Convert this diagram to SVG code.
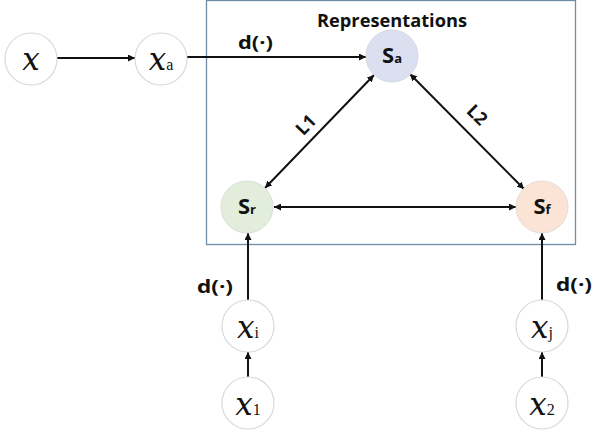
<svg xmlns="http://www.w3.org/2000/svg" width="594" height="434" viewBox="0 0 594 434">
<style>
.nd{stroke:#d9d9d9;stroke-width:1.2;fill:#fff}
.mx{font-family:"DejaVu Serif",serif;font-style:italic;font-size:31px;fill:#111}
.sub{font-family:"Liberation Serif",serif;font-style:normal;font-size:16px}
.sl{font-family:"Open Sans","Liberation Sans",sans-serif;font-weight:bold;font-size:22px;fill:#111}
.ss{font-size:13px}
.lb{font-family:"Open Sans","Liberation Sans",sans-serif;font-weight:bold;font-size:18px;fill:#111}
.ln{stroke:#111;stroke-width:2;fill:none}
</style>
<defs>
<marker id="ah" viewBox="0 0 10 10" refX="10" refY="5" markerWidth="7" markerHeight="7" markerUnits="userSpaceOnUse" orient="auto-start-reverse"><path d="M0,0 L10,5 L0,10 z" fill="#111"/></marker>
</defs>
<rect id="box" x="206.5" y="0.5" width="369" height="244" fill="none" stroke="#6f8ca8" stroke-width="1.3"/>
<text class="lb" x="317" y="27" textLength="150" lengthAdjust="spacingAndGlyphs">Representations</text>
<g id="connectors">
<line class="ln" x1="57" y1="58" x2="135" y2="58" marker-end="url(#ah)"/>
<line class="ln" x1="187" y1="57" x2="366" y2="57" marker-end="url(#ah)"/>
<line class="ln" x1="374" y1="75" x2="265" y2="188" marker-start="url(#ah)" marker-end="url(#ah)"/>
<line class="ln" x1="410" y1="74" x2="524" y2="189" marker-start="url(#ah)" marker-end="url(#ah)"/>
<line class="ln" x1="274" y1="207" x2="516" y2="207" marker-start="url(#ah)" marker-end="url(#ah)"/>
<line class="ln" x1="248" y1="300" x2="248" y2="233" stroke-width="3" marker-end="url(#ah)"/>
<line class="ln" x1="542" y1="300" x2="542" y2="233" stroke-width="3" marker-end="url(#ah)"/>
<line class="ln" x1="248" y1="377" x2="248" y2="352" stroke-width="3" marker-end="url(#ah)"/>
<line class="ln" x1="542" y1="377" x2="542" y2="352" stroke-width="3" marker-end="url(#ah)"/>
<text class="lb" x="238" y="49" font-size="19" textLength="35" lengthAdjust="spacingAndGlyphs">d(·)</text>
<text class="lb" x="197" y="293" font-size="19" textLength="36" lengthAdjust="spacingAndGlyphs">d(·)</text>
<text class="lb" x="556" y="291" font-size="19" textLength="36" lengthAdjust="spacingAndGlyphs">d(·)</text>
<text class="lb" x="306" y="131" text-anchor="middle" transform="rotate(-46 306 125)">L1</text>
<text class="lb" x="477" y="121" text-anchor="middle" transform="rotate(45 477 115)">L2</text>
</g>
<g id="x"><circle class="nd" cx="31" cy="59" r="26"/><text class="mx" x="31" y="70" text-anchor="middle">x</text></g>
<g id="xa"><circle class="nd" cx="161" cy="59" r="26"/><text class="mx" x="161" y="70" text-anchor="middle">x<tspan class="sub">a</tspan></text></g>
<g id="Sa"><circle cx="392" cy="56" r="26" fill="#dae0f0" stroke="#d4d8e0"/><text class="sl" x="392" y="63" text-anchor="middle">S<tspan class="ss">a</tspan></text></g>
<g id="Sr"><circle cx="247" cy="207" r="26" fill="#e2eedb" stroke="#d9ded6"/><text class="sl" x="247" y="214" text-anchor="middle">S<tspan class="ss">r</tspan></text></g>
<g id="Sf"><circle cx="542" cy="207" r="26" fill="#fbe4d6" stroke="#e6dcd6"/><text class="sl" x="542" y="214" text-anchor="middle">S<tspan class="ss">f</tspan></text></g>
<g id="xi"><circle class="nd" cx="248" cy="326" r="26"/><text class="mx" x="248" y="338" text-anchor="middle">x<tspan class="sub">i</tspan></text></g>
<g id="xj"><circle class="nd" cx="542" cy="326" r="26"/><text class="mx" x="542" y="338" text-anchor="middle">x<tspan class="sub">j</tspan></text></g>
<g id="x1"><circle class="nd" cx="248" cy="403" r="26"/><text class="mx" x="248" y="415" text-anchor="middle">x<tspan class="sub">1</tspan></text></g>
<g id="x2"><circle class="nd" cx="542" cy="403" r="26"/><text class="mx" x="542" y="415" text-anchor="middle">x<tspan class="sub">2</tspan></text></g>
</svg>
